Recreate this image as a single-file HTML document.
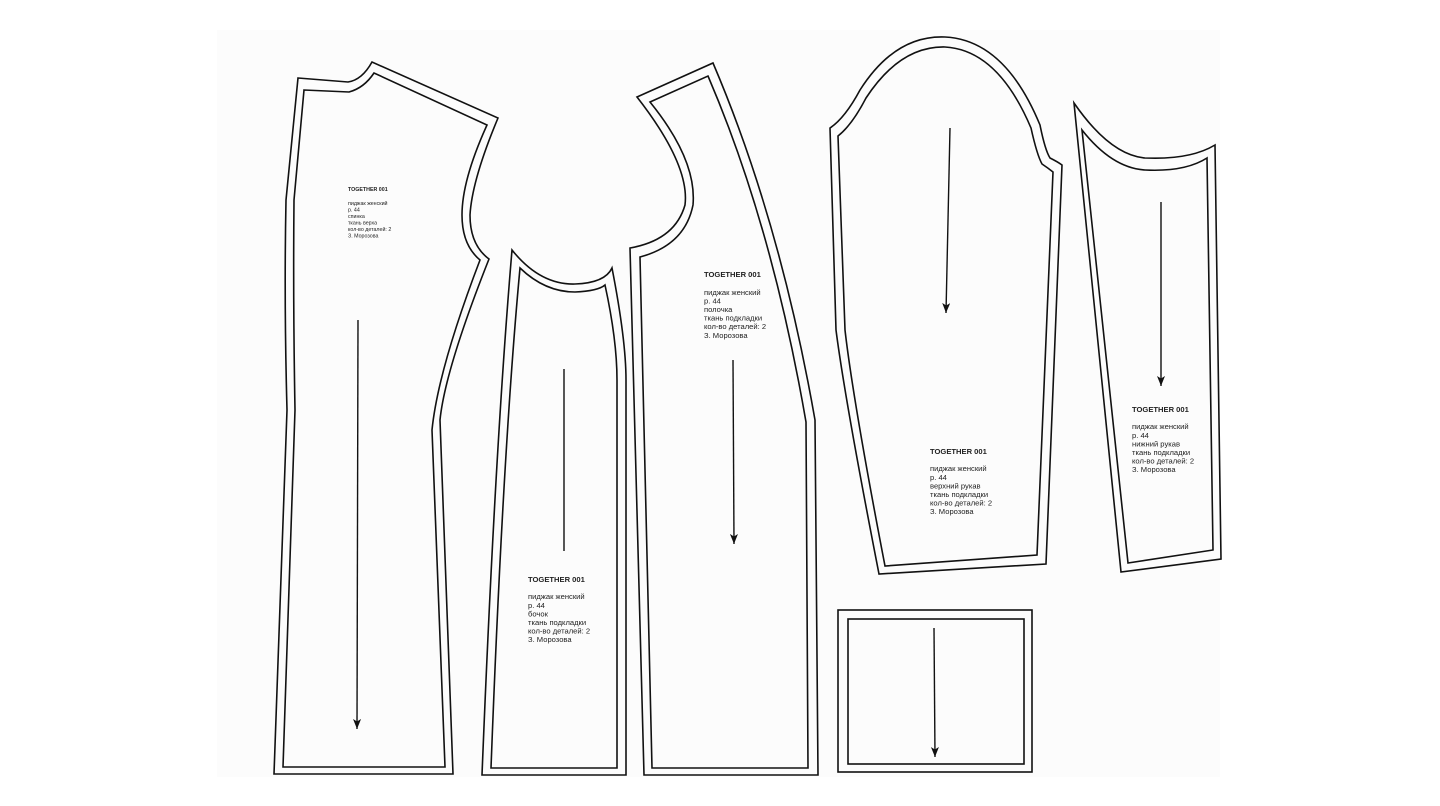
<!DOCTYPE html>
<html><head><meta charset="utf-8"><style>
html,body{margin:0;padding:0;background:#fff;width:1440px;height:806px;overflow:hidden}
svg{display:block}
text{font-family:"Liberation Sans","DejaVu Sans",sans-serif;fill:#222}
</style></head><body>
<svg width="1440" height="806" viewBox="0 0 1440 806" xmlns="http://www.w3.org/2000/svg">
<defs><marker id="ah" markerWidth="10" markerHeight="8" refX="10" refY="4" orient="auto" markerUnits="userSpaceOnUse"><path d="M0,0 L10,4 L0,8 L2.5,4 Z" fill="#111"/></marker></defs>
<rect x="217" y="30" width="1003" height="747" fill="#fcfcfc"/>
<g fill="none" stroke="#111" stroke-width="1.6" stroke-linejoin="miter">
<path d="M298,78 L348,82 Q362,80 372,62 L498,118 Q472,180 470,215 Q470,245 489,259 Q445,370 440,420 L453,774 L274,774 L287,410 Q284,300 286,200 Z"/>
<path d="M304,90 L349,92 Q364,88 374,73 L487,125 Q462,180 462,215 Q462,245 480,260 Q438,370 432,430 L445,767 L283,767 L295,410 Q293,300 294,200 Z"/>
<path d="M512,250 Q540,285 575,284 Q605,283 612,268 Q626,340 626,380 L626,775 L482,775 Q495,450 512,250 Z"/>
<path d="M520,268 Q545,292 575,292 Q598,291 605,285 Q617,340 617,380 L617,768 L491,768 Q503,450 520,268 Z"/>
<path d="M637,97 L713,63 Q780,220 815,420 L818,775 L644,775 L630,248 Q675,240 685,205 Q690,165 637,97 Z"/>
<path d="M650,102 L708,76 Q772,225 806,422 L808,768 L652,768 L640,257 Q685,245 693,205 Q697,160 650,102 Z"/>
<path d="M830,128 Q845,118 860,90 Q895,35 945,37 Q1005,40 1040,125 Q1045,150 1050,158 Q1058,162 1062,165 L1046,564 L879,574 Q845,400 836,330 Z"/>
<path d="M838,136 Q852,125 866,98 Q900,46 945,47 Q998,50 1031,128 Q1037,155 1042,164 Q1048,168 1053,172 L1037,555 L885,566 Q853,400 845,330 Z"/>
<path d="M1074,103 Q1110,155 1145,158 Q1190,160 1215,145 L1221,559 L1121,572 Z"/>
<path d="M1082,130 Q1112,168 1145,170 Q1185,172 1207,158 L1213,550 L1128,563 Z"/>
<rect x="838" y="610" width="194" height="162"/>
<rect x="848" y="619" width="176" height="145"/>
</g>
<g stroke="#111" stroke-width="1.4">
<line x1="358" y1="320" x2="357" y2="729" marker-end="url(#ah)"/>
<line x1="564" y1="369" x2="564" y2="551"/>
<line x1="733" y1="360" x2="734" y2="544" marker-end="url(#ah)"/>
<line x1="950" y1="128" x2="946" y2="313" marker-end="url(#ah)"/>
<line x1="1161" y1="202" x2="1161" y2="386" marker-end="url(#ah)"/>
<line x1="934" y1="628" x2="935" y2="757" marker-end="url(#ah)"/>
</g>
<g font-size="5.3">
<text x="348" y="191" font-weight="bold">TOGETHER 001</text>
<text x="348" y="205">пиджак женский</text>
<text x="348" y="211.5">р. 44</text>
<text x="348" y="218">спинка</text>
<text x="348" y="224.5">ткань верха</text>
<text x="348" y="231">кол-во деталей: 2</text>
<text x="348" y="237.5">З. Морозова</text>
</g>
<g font-size="7.6">
<text x="528" y="582" font-weight="bold">TOGETHER 001</text>
<text x="528" y="599">пиджак женский</text>
<text x="528" y="608">р. 44</text>
<text x="528" y="616.5">бочок</text>
<text x="528" y="625">ткань подкладки</text>
<text x="528" y="633.5">кол-во деталей: 2</text>
<text x="528" y="642">З. Морозова</text>

<text x="704" y="277" font-weight="bold">TOGETHER 001</text>
<text x="704" y="295">пиджак женский</text>
<text x="704" y="303.5">р. 44</text>
<text x="704" y="312">полочка</text>
<text x="704" y="320.5">ткань подкладки</text>
<text x="704" y="329">кол-во деталей: 2</text>
<text x="704" y="338">З. Морозова</text>

<text x="930" y="454" font-weight="bold">TOGETHER 001</text>
<text x="930" y="471">пиджак женский</text>
<text x="930" y="480">р. 44</text>
<text x="930" y="488.5">верхний рукав</text>
<text x="930" y="497">ткань подкладки</text>
<text x="930" y="505.5">кол-во деталей: 2</text>
<text x="930" y="514">З. Морозова</text>

<text x="1132" y="412" font-weight="bold">TOGETHER 001</text>
<text x="1132" y="429">пиджак женский</text>
<text x="1132" y="438">р. 44</text>
<text x="1132" y="446.5">нижний рукав</text>
<text x="1132" y="455">ткань подкладки</text>
<text x="1132" y="463.5">кол-во деталей: 2</text>
<text x="1132" y="472">З. Морозова</text>
</g>
</svg>
</body></html>
